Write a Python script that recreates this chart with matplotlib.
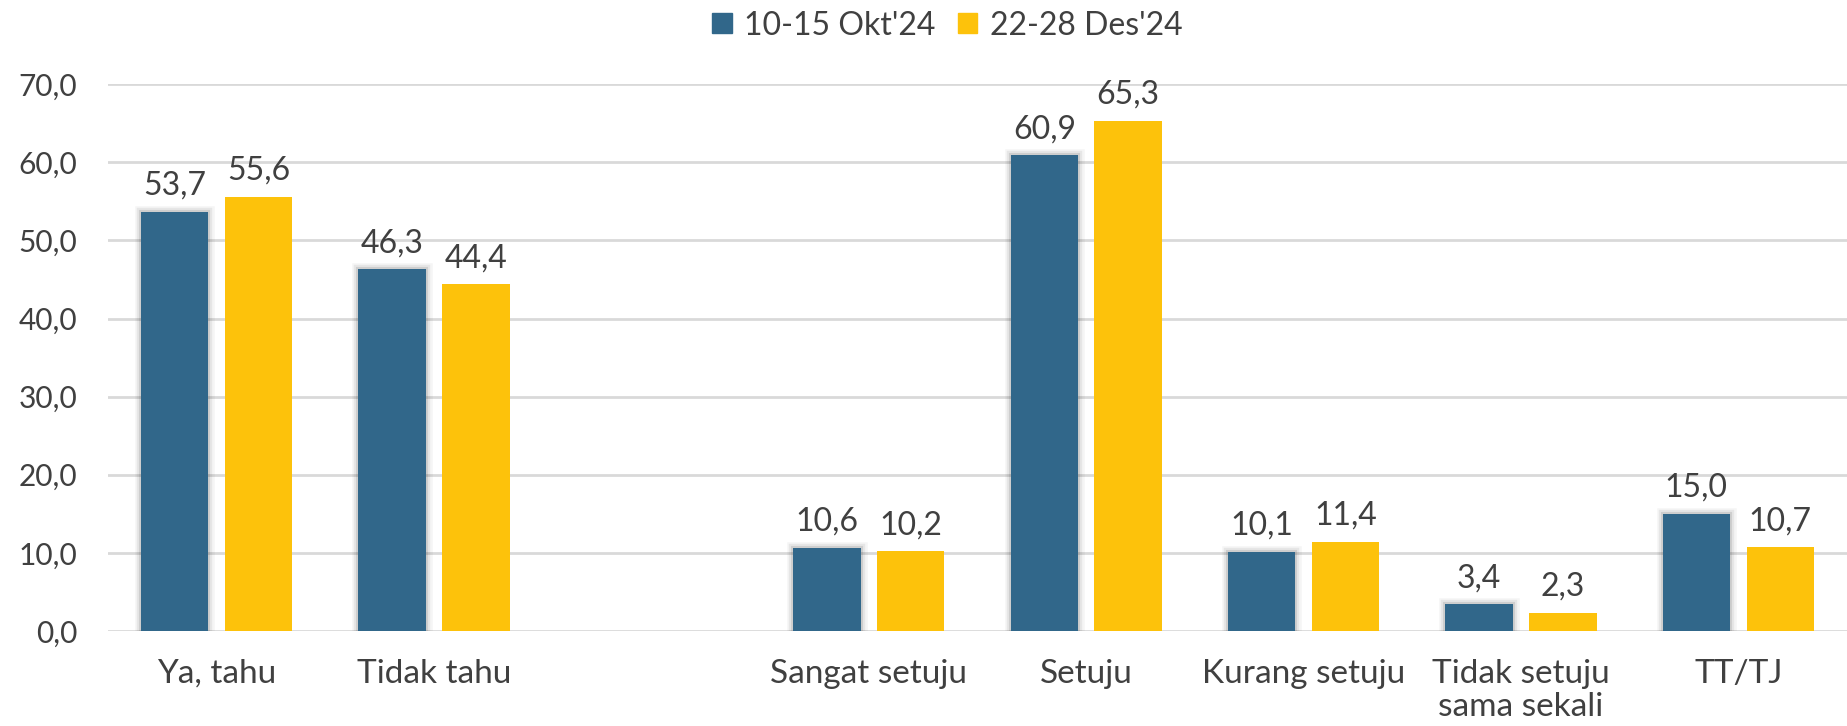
import numpy as np
from matplotlib import pyplot as plt
from matplotlib import patheffects as pe
from matplotlib.patches import Patch

categories = ['Ya, tahu', 'Tidak tahu', '', 'Sangat setuju', 'Setuju',
              'Kurang setuju', 'Tidak setuju\nsama sekali', 'TT/TJ']
okt24 = [53.7, 46.3, np.nan, 10.6, 60.9, 10.1, 3.4, 15.0]
des24 = [55.6, 44.4, np.nan, 10.2, 65.3, 11.4, 2.3, 10.7]
series_names = ["10-15 Okt'24", "22-28 Des'24"]
yticks = [0, 10, 20, 30, 40, 50, 60, 70]

blue = '#31678A'
yellow = '#FDC20B'
txt = '#404040'

plt.rcParams['font.family'] = ['Lato', 'DejaVu Sans']

fig = plt.figure(figsize=(18.47, 7.26), dpi=100)
ax = fig.add_axes([0.0585, 0.131, 0.9415, 0.753])

x = np.arange(len(categories))
w = 0.31
off = 0.193

# soft grey glow around the blue bars
shadow = [pe.Stroke(linewidth=9, foreground='black', alpha=0.04),
          pe.Stroke(linewidth=6, foreground='black', alpha=0.06),
          pe.Stroke(linewidth=3, foreground='black', alpha=0.10),
          pe.Normal()]

b1 = ax.bar(x - off, okt24, w, color=blue, zorder=3)
for r in b1:
    r.set_path_effects(shadow)
b2 = ax.bar(x + off, des24, w, color=yellow, zorder=3)

for bars, vals in [(b1, okt24), (b2, des24)]:
    for r, v in zip(bars, vals):
        if np.isnan(v):
            continue
        ax.annotate(f'{v:.1f}'.replace('.', ','),
                    (r.get_x() + r.get_width() / 2, v),
                    xytext=(0, 8), textcoords='offset points',
                    ha='center', va='bottom', fontsize=23, color=txt,
                    annotation_clip=False)

ax.set_ylim(0, 70)
ax.set_xlim(-0.5, len(categories) - 0.5)
ax.set_yticks(yticks)
ax.set_yticklabels([f'{t:.1f}'.replace('.', ',') for t in yticks])
ax.set_xticks(x)
ax.set_xticklabels(categories, va='top', linespacing=1.15)
ax.tick_params(axis='y', length=0, pad=22, labelsize=21.5, labelcolor=txt)
ax.tick_params(axis='x', length=0, pad=20, labelsize=24, labelcolor=txt)
ax.grid(axis='y', color='#D9D9D9', linewidth=2, zorder=0)
ax.set_axisbelow(True)
for s in ax.spines.values():
    s.set_visible(False)

handles = [Patch(color=blue), Patch(color=yellow)]
fig.legend(handles, series_names, loc='upper center',
           bbox_to_anchor=(0.513, 1.025), ncol=2,
           frameon=False, fontsize=23, labelcolor=txt, handlelength=0.6,
           handleheight=0.6, handletextpad=0.4, columnspacing=0.7)

fig.savefig('out.png', dpi=100)
